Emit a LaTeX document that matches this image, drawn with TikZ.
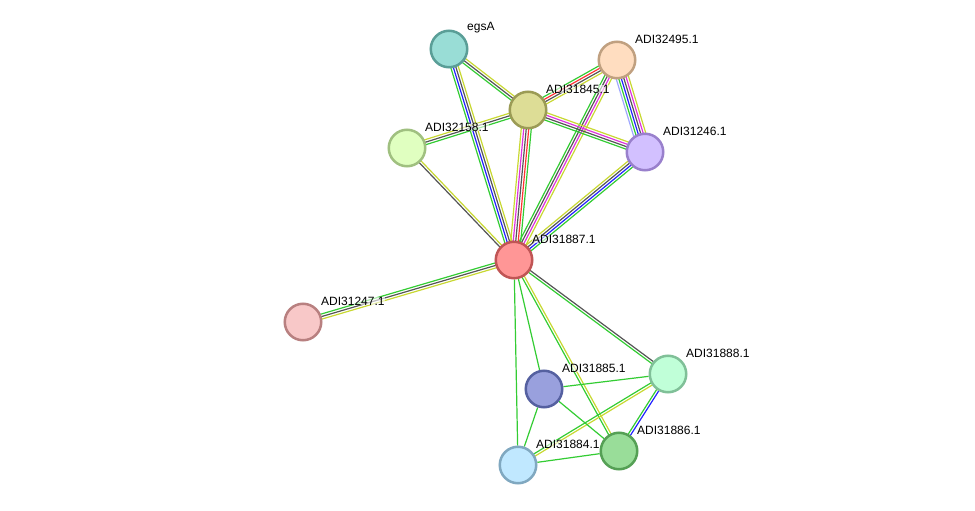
\documentclass[tikz,border=0pt]{standalone}
\usepackage{fontspec}
\setmainfont{Liberation Sans}
\usetikzlibrary{calc}
\pgfdeclarelayer{background}
\pgfsetlayers{background,main}
\definecolor{eG}{HTML}{33CC33}
\definecolor{eK}{HTML}{555555}
\definecolor{eY}{HTML}{C8D832}
\definecolor{eB}{HTML}{2222FF}
\definecolor{eR}{HTML}{FF3333}
\definecolor{eM}{HTML}{DD33DD}
\definecolor{eL}{HTML}{A0A8FF}
\tikzset{
  prot/.style={circle, minimum size=36.5pt, inner sep=0pt, line width=2.5pt},
  lbl/.style={anchor=west, font=\fontsize{12}{12}\selectfont, inner sep=0pt, fill=white, fill opacity=0.6, text opacity=1},
  edgeline/.style={line width=1.2pt}
}
\newcommand\sedge[4]{%
  \foreach \c [count=\i] in {#4} {%
    \pgfmathsetmacro\off{(\i-(#3+1)/2)*2.5}%
    \draw[\c, edgeline] ($(#1)!\off pt!90:(#2)$) -- ($(#2)!\off pt!-90:(#1)$);%
  }%
}
\begin{document}
\begin{tikzpicture}[x=1pt,y=-1pt]
\useasboundingbox (0,0) rectangle (975,511);
\node[prot, fill={rgb,255:red,153;green,221;blue,214}, draw={rgb,255:red,90;green,158;blue,151}] (egsA) at (449,49) {};
\node[prot, fill={rgb,255:red,255;green,221;blue,192}, draw={rgb,255:red,192;green,160;blue,128}] (n2495) at (617,60) {};
\node[prot, fill={rgb,255:red,221;green,221;blue,150}, draw={rgb,255:red,155;green,155;blue,85}] (n1845) at (528,110) {};
\node[prot, fill={rgb,255:red,224;green,255;blue,192}, draw={rgb,255:red,160;green,192;blue,128}] (n2158) at (407,148) {};
\node[prot, fill={rgb,255:red,210;green,192;blue,255}, draw={rgb,255:red,153;green,128;blue,204}] (n1246) at (645,152) {};
\node[prot, fill={rgb,255:red,255;green,150;blue,150}, draw={rgb,255:red,192;green,85;blue,85}] (n1887) at (514,260) {};
\node[prot, fill={rgb,255:red,248;green,200;blue,200}, draw={rgb,255:red,184;green,128;blue,128}] (n1247) at (303,322) {};
\node[prot, fill={rgb,255:red,192;green,255;blue,216}, draw={rgb,255:red,128;green,192;blue,152}] (n1888) at (668,374) {};
\node[prot, fill={rgb,255:red,153;green,160;blue,221}, draw={rgb,255:red,85;green,96;blue,160}] (n1885) at (544,389) {};
\node[prot, fill={rgb,255:red,192;green,232;blue,255}, draw={rgb,255:red,128;green,168;blue,192}] (n1884) at (518,465) {};
\node[prot, fill={rgb,255:red,153;green,221;blue,153}, draw={rgb,255:red,85;green,160;blue,85}] (n1886) at (619,451) {};
\begin{pgfonlayer}{background}
\sedge{egsA}{n1845}{3}{eG,eK,eY}
\sedge{egsA}{n1887}{4}{eG,eB,eK,eY}
\sedge{n2495}{n1845}{4}{eG,eR,eK,eY}
\sedge{n2495}{n1887}{4}{eG,eK,eM,eY}
\sedge{n2495}{n1246}{6}{eL,eG,eB,eK,eM,eY}
\sedge{n1845}{n2158}{3}{eY,eK,eG}
\sedge{n1845}{n1246}{4}{eG,eK,eM,eY}
\sedge{n1845}{n1887}{5}{eY,eM,eK,eR,eG}
\sedge{n2158}{n1887}{2}{eK,eY}
\sedge{n1246}{n1887}{4}{eY,eK,eB,eG}
\sedge{n1887}{n1247}{3}{eG,eK,eY}
\sedge{n1887}{n1888}{2}{eG,eK}
\sedge{n1887}{n1886}{2}{eG,eY}
\sedge{n1888}{n1884}{2}{eG,eY}
\sedge{n1888}{n1886}{2}{eG,eB}
\draw[eG, edgeline] (n1887) -- (n1885);
\draw[eG, edgeline] (n1887) -- (n1884);
\draw[eG, edgeline] (n1885) -- (n1888);
\draw[eG, edgeline] (n1885) -- (n1886);
\draw[eG, edgeline] (n1885) -- (n1884);
\draw[eG, edgeline] (n1884) -- (n1886);
\end{pgfonlayer}
\node[lbl] (legsA) at ($(egsA)+(18,-21)$) {egsA};
\node[lbl] (l2495) at ($(n2495)+(18,-21)$) {ADI32495.1};
\node[lbl] (l1845) at ($(n1845)+(18,-21)$) {ADI31845.1};
\node[lbl] (l2158) at ($(n2158)+(18,-21)$) {ADI32158.1};
\node[lbl] (l1246) at ($(n1246)+(18,-21)$) {ADI31246.1};
\node[lbl] (l1887) at ($(n1887)+(18,-21)$) {ADI31887.1};
\node[lbl] (l1247) at ($(n1247)+(18,-21)$) {ADI31247.1};
\node[lbl] (l1888) at ($(n1888)+(18,-21)$) {ADI31888.1};
\node[lbl] (l1885) at ($(n1885)+(18,-21)$) {ADI31885.1};
\node[lbl] (l1884) at ($(n1884)+(18,-21)$) {ADI31884.1};
\node[lbl] (l1886) at ($(n1886)+(18,-21)$) {ADI31886.1};
\end{tikzpicture}
\end{document}
